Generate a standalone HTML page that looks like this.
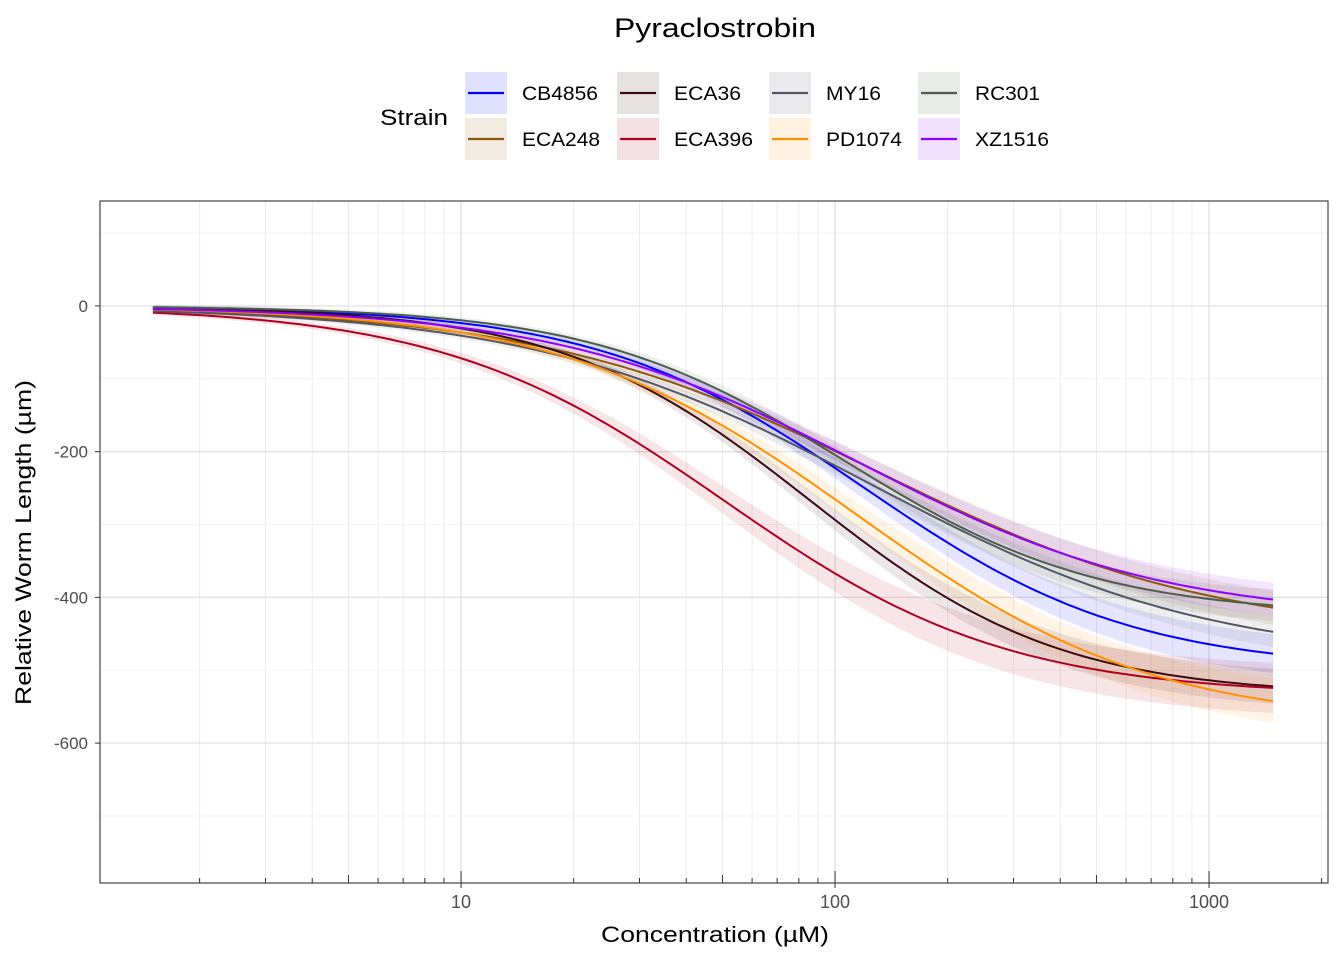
<!DOCTYPE html>
<html><head><meta charset="utf-8">
<style>
html,body{margin:0;padding:0;background:#fff;}
svg text{font-family:"Liberation Sans",Arial,sans-serif;}
</style></head>
<body>
<svg id="chart" width="1344" height="960" viewBox="0 0 1344 960" xmlns="http://www.w3.org/2000/svg">
<rect width="1344" height="960" fill="#fff"/>
<text x="614" y="37" font-size="27" textLength="202" lengthAdjust="spacingAndGlyphs" fill="#000">Pyraclostrobin</text>
<g id="legend"></g>
<g id="grid"></g>
<g id="ribbons"></g>
<g id="lines"></g>
<rect x="100" y="201" width="1228" height="682" fill="none" stroke="#333" stroke-width="1.1"/>
<g id="axes"></g>
<text x="601" y="942" font-size="22" textLength="228" lengthAdjust="spacingAndGlyphs">Concentration (µM)</text>
<text transform="translate(31,705) rotate(-90)" font-size="22" textLength="325" lengthAdjust="spacingAndGlyphs">Relative Worm Length (µm)</text>
</svg>
<script>
const strains = ["CB4856","ECA248","ECA36","ECA396","MY16","PD1074","RC301","XZ1516"];
const colors = ["#0000ff","#8b5a0b","#3d0a14","#b0001e","#555566","#ff9000","#4b5e4b","#8f00ff"];
// fitted 4-parameter log-logistic parameters per strain
const topVals    = [0, 0, 0, 0, 0, 0, 0, 0];
const bottomVals = [-500, -455, -535, -535, -490, -575, -425, -430];
const ec50Vals   = [120, 130, 86, 50.6, 125, 115, 106, 116];
const hillVals   = [1.21, 0.95, 1.3, 1.15, 0.95, 1.1, 1.28, 1.06];
const ciFrac     = [0.05, 0.05, 0.04, 0.06, 0.04, 0.05, 0.045, 0.05];
const concRange  = [1.5, 1483];
const yTicks = [0,-200,-400,-600];
const yMinor = [100,-100,-300,-500,-700];
const xTicks = [10,100,1000];
const legendLabelWidths = [76,78,67,79,55,76,65,74];

const NS="http://www.w3.org/2000/svg";
const L=100,R=1328,T=201,B=883;
const xlo=Math.log10(1.083), xhi=Math.log10(2080);
const ylo=-792, yhi=144;
const xs=v=>L+(Math.log10(v)-xlo)/(xhi-xlo)*(R-L);
const ys=v=>B-(v-ylo)/(yhi-ylo)*(B-T);
function mk(tag,attrs,parent){const e=document.createElementNS(NS,tag);for(const k in attrs)e.setAttribute(k,attrs[k]);parent.appendChild(e);return e;}
function model(si,x){return bottomVals[si]+(topVals[si]-bottomVals[si])/(1+Math.pow(x/ec50Vals[si],hillVals[si]));}

const grid=document.getElementById('grid');
yMinor.forEach(v=>{const l=mk('line',{x1:L,x2:R,y1:ys(v),y2:ys(v),stroke:'#f2f2f2','stroke-width':1},grid);

});
for(let e=0;e<4;e++){for(let k=1;k<10;k++){const v=k*Math.pow(10,e);const x=xs(v);if(x<L||x>R)continue;
const l=mk('line',{x1:x,x2:x,y1:T,y2:B,stroke:k===1?'#e3e3e3':'#ececec','stroke-width':k===1?1.4:1},grid);

}}
yTicks.forEach(v=>{const l=mk('line',{x1:L,x2:R,y1:ys(v),y2:ys(v),stroke:'#e3e3e3','stroke-width':1.4},grid);

});

const axes=document.getElementById('axes');
yTicks.forEach(v=>{const y=ys(v);
const t=mk('line',{x1:L-5,x2:L,y1:y,y2:y,stroke:'#333','stroke-width':1},axes);


const tx=mk('text',{x:L-12,y:y+6,'font-size':17,'text-anchor':'end',fill:'#4d4d4d'},axes);tx.textContent=String(v);

});
for(let e=0;e<4;e++){for(let k=1;k<10;k++){const v=k*Math.pow(10,e);const x=xs(v);if(x<L||x>R)continue;
const len=k===1?12:(k===5?8:5);
const t=mk('line',{x1:x,x2:x,y1:B-len,y2:B,stroke:'#333','stroke-width':1},axes);

}}
xTicks.forEach(v=>{const x=xs(v);
const t=mk('line',{x1:x,x2:x,y1:B,y2:B+5,stroke:'#333','stroke-width':1},axes);


const tx=mk('text',{x:x,y:B+25,'font-size':18,'text-anchor':'middle',fill:'#4d4d4d'},axes);tx.textContent=v;

});

const rib=document.getElementById('ribbons'),lines=document.getElementById('lines');
const N=160;
strains.forEach((s,si)=>{
const a=Math.log10(concRange[0]),b=Math.log10(concRange[1]);
const cs=[];for(let i=0;i<=N;i++)cs.push(Math.pow(10,a+(b-a)*i/N));
const vals=cs.map(c=>model(si,c));
const up=cs.map((c,i)=>xs(c).toFixed(1)+','+ys(vals[i]-vals[i]*ciFrac[si]+3).toFixed(1));
const lo=cs.map((c,i)=>xs(c).toFixed(1)+','+ys(vals[i]+vals[i]*ciFrac[si]-3).toFixed(1)).reverse();
const r=mk('path',{d:'M'+up.join(' L')+' L'+lo.join(' L')+' Z',fill:colors[si],'fill-opacity':0.1,stroke:'none'},rib);


const pts=cs.map((c,i)=>xs(c).toFixed(1)+','+ys(vals[i]).toFixed(1));
const p=mk('path',{d:'M'+pts.join(' L'),fill:'none',stroke:colors[si],'stroke-width':2},lines);


});

const leg=document.getElementById('legend');
const lt=mk('text',{x:380,y:125,'font-size':22,textLength:68,lengthAdjust:'spacingAndGlyphs'},leg);lt.textContent='Strain';


const colX=[465,617,769,918];
strains.forEach((s,i)=>{const col=Math.floor(i/2),row=i%2;const x=colX[col],y=72+row*46;
const g=mk('g',{},leg);


mk('rect',{x:x,y:y,width:42,height:42,fill:colors[i],'fill-opacity':0.12},g);
mk('line',{x1:x+3,x2:x+39,y1:y+21,y2:y+21,stroke:colors[i],'stroke-width':2.2},g);
const t=mk('text',{x:x+57,y:y+28,'font-size':19,textLength:legendLabelWidths[i],lengthAdjust:'spacingAndGlyphs'},g);t.textContent=s;});
</script>
</body></html>
